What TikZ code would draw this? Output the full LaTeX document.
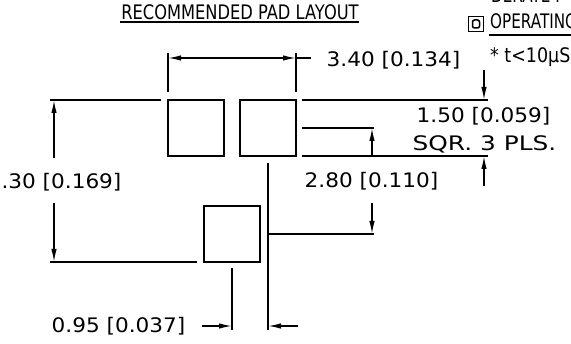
\documentclass[tikz,border=0pt]{standalone}
\usepackage{fontspec}
\setmainfont{DejaVu Sans}
\usepackage{xcolor}
\usetikzlibrary{arrows.meta,positioning}

\tikzset{
    padbox/.style={line width=1.5pt},
    dimline/.style={line width=1.5pt},
    dimarrow/.style={line width=1.5pt,-{Latex[length=13pt,width=5.5pt]}},
    cadtext/.style={font=\fontsize{20}{20}\selectfont,inner sep=0pt,transform shape,xscale=1.08},
    cadsmall/.style={font=\fontsize{20}{20}\selectfont,inner sep=0pt,transform shape,xscale=0.76}
}

\begin{document}
\begin{tikzpicture}[x=1pt,y=-1pt]
                \useasboundingbox (0,0) rectangle (571,344);
                \clip (0,0) rectangle (571,344);

                % pads
                \draw[padbox] (168,100) rectangle (224,156);
                \draw[padbox] (240,100) rectangle (296,156);
                \draw[padbox] (204,206) rectangle (260,262);

                % title and notes
                \node[cadsmall,xscale=1.07] (title) at (240,12) {RECOMMENDED PAD LAYOUT};
                \draw[dimline] (120,22) -- (359,22);

                \node[cadsmall,anchor=west] (derate) at (491,-5) {DERATE F};
                \node[padbox,draw,minimum size=15pt,inner sep=0pt] (flagbox) at (476,24) {};
                \node[padbox,draw,minimum width=7pt,minimum height=8pt,inner sep=0pt,
                    rounded corners=2pt] (flagletter) at (flagbox.center) {};
                \node[cadsmall,anchor=west] (operating) at (490,21) {OPERATING};
                \draw[dimline] (489,35) -- (571,35);
                \node[cadsmall,anchor=west,xscale=1.15] (note) at (490,57) {* t<10μS};

                % 3.40 dimension
                \draw[dimline] (168,53) -- (168,92);
                \draw[dimline] (296,53) -- (296,92);
                \draw[dimarrow] (232,58) -- (168,58);
                \draw[dimarrow] (232,58) -- (296,58);
                \draw[dimline] (296,58) -- (311,58);
                \node[cadtext] (dimpitch) at (393.5,60) {3.40 [0.134]};

                % left height dimension
                \draw[dimline] (50,100) -- (161,100);
                \draw[dimline] (50,262) -- (197,262);
                \draw[dimarrow] (54,158) -- (54,100);
                \draw[dimarrow] (54,203) -- (54,262);
                \node[cadtext] (dimheight) at (61.5,182) {.30 [0.169]};

                % right side lines
                \draw[dimline] (302,100) -- (488,100);
                \draw[dimline] (302,156) -- (488,156);
                \draw[dimline] (302,128) -- (374,128);
                \draw[dimline] (269,234) -- (374,234);

                % 2.80 dimension
                \draw[dimarrow] (372,156) -- (372,128);
                \draw[dimarrow] (372,203) -- (372,234);
                \node[cadtext] (dimrow) at (371.5,181) {2.80 [0.110]};

                % 1.50 dimension
                \draw[dimarrow] (484,70) -- (484,100);
                \draw[dimarrow] (484,186) -- (484,156);
                \node[cadtext] (dimpad) at (483.5,116) {1.50 [0.059]};
                \node[cadtext,xscale=1.15] (dimsqr) at (484.5,144) {SQR. 3 PLS.};

                % 0.95 dimension
                \draw[dimline] (268,163) -- (268,330);
                \draw[dimline] (232,268) -- (232,330);
                \draw[dimarrow] (202,326) -- (232,326);
                \draw[dimarrow] (298,326) -- (268,326);
                \node[cadtext] (dimoffset) at (118.5,326) {0.95 [0.037]};

\end{tikzpicture}
\end{document}
